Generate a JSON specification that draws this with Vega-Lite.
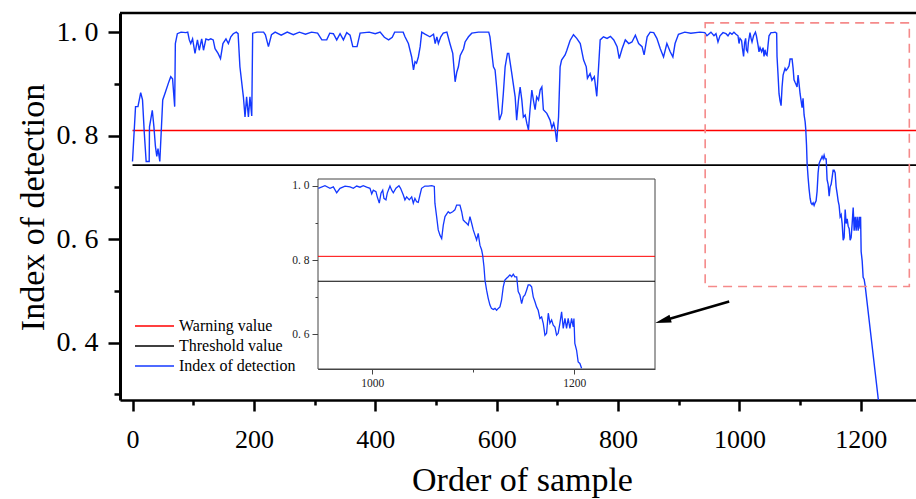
{
  "$schema": "https://vega.github.io/schema/vega-lite/v6.json",
  "width": 796,
  "height": 387,
  "autosize": {"type": "none"},
  "padding": {"left": 120, "top": 13, "right": 0, "bottom": 99},
  "background": "white",
  "config": {
    "font": "Liberation Serif",
    "view": {"stroke": null},
    "legend": {
      "orient": "none", "legendX": 23.5, "legendY": 302, "padding": 0,
      "symbolType": "M-1.95,0H1.95", "symbolSize": 400, "symbolStrokeWidth": 1.6,
      "labelFont": "Liberation Serif", "labelFontSize": 16, "labelColor": "#000", "labelOffset": 13.5,
      "rowPadding": 1
    }
  },
  "datasets": {
    "detect": [
      {"x":0,"y":0.750},{"x":5,"y":0.856},{"x":9,"y":0.856},{"x":13.5,"y":0.883},{"x":16.5,"y":0.869},{"x":19.5,"y":0.804},{"x":22.5,"y":0.750},{"x":27.5,"y":0.750},{"x":28,"y":0.817},{"x":32.6,"y":0.849},{"x":35.3,"y":0.817},{"x":37.7,"y":0.780},{"x":40,"y":0.760},{"x":42,"y":0.775},{"x":45,"y":0.750},{"x":49.8,"y":0.869},{"x":53.6,"y":0.882},{"x":59,"y":0.901},{"x":63,"y":0.914},{"x":66,"y":0.910},{"x":69.5,"y":0.856},{"x":70.6,"y":0.978},{"x":73.9,"y":0.997},{"x":80,"y":1.000},{"x":88,"y":0.999},{"x":91,"y":1.000},{"x":93.6,"y":0.985},{"x":96,"y":0.978},{"x":99,"y":0.987},{"x":103,"y":0.959},{"x":107,"y":0.985},{"x":110,"y":0.965},{"x":114,"y":0.987},{"x":117,"y":0.965},{"x":121,"y":0.987},{"x":125,"y":0.985},{"x":129,"y":0.987},{"x":133,"y":0.985},{"x":136,"y":0.968},{"x":141,"y":0.959},{"x":145,"y":0.949},{"x":149,"y":0.978},{"x":154,"y":0.987},{"x":158,"y":0.978},{"x":162,"y":0.991},{"x":166,"y":0.997},{"x":171,"y":1.000},{"x":174,"y":0.997},{"x":177,"y":0.933},{"x":182.7,"y":0.875},{"x":185.4,"y":0.836},{"x":188,"y":0.875},{"x":191,"y":0.836},{"x":193.5,"y":0.875},{"x":196.5,"y":0.838},{"x":198,"y":0.998},{"x":205,"y":1.000},{"x":216,"y":1.000},{"x":219,"y":0.995},{"x":224,"y":0.972},{"x":229,"y":0.995},{"x":235,"y":1.000},{"x":245,"y":0.994},{"x":255,"y":1.000},{"x":265,"y":0.995},{"x":275,"y":1.000},{"x":285,"y":0.996},{"x":295,"y":1.000},{"x":305,"y":0.998},{"x":312,"y":0.985},{"x":320,"y":0.985},{"x":325,"y":0.998},{"x":331,"y":0.997},{"x":336.5,"y":0.985},{"x":342,"y":0.997},{"x":347.5,"y":0.985},{"x":353,"y":0.999},{"x":358.5,"y":0.994},{"x":363,"y":0.972},{"x":370,"y":0.972},{"x":375,"y":0.998},{"x":390,"y":1.000},{"x":400,"y":0.997},{"x":408,"y":1.000},{"x":415,"y":0.990},{"x":422,"y":0.985},{"x":428,"y":0.990},{"x":432,"y":1.000},{"x":446,"y":1.000},{"x":449,"y":0.991},{"x":454.6,"y":0.978},{"x":460,"y":0.952},{"x":463,"y":0.927},{"x":465.5,"y":0.943},{"x":468,"y":0.940},{"x":471,"y":0.952},{"x":474,"y":0.972},{"x":476.6,"y":1.000},{"x":482,"y":0.996},{"x":490,"y":0.991},{"x":496,"y":0.996},{"x":498.7,"y":0.978},{"x":501.5,"y":0.991},{"x":504,"y":0.978},{"x":508,"y":0.991},{"x":512,"y":0.998},{"x":518,"y":1.000},{"x":523,"y":0.978},{"x":527.7,"y":0.959},{"x":531.6,"y":0.904},{"x":534.4,"y":0.923},{"x":537,"y":0.933},{"x":540,"y":0.955},{"x":545.5,"y":0.968},{"x":548,"y":0.981},{"x":553.6,"y":0.991},{"x":559,"y":0.998},{"x":570,"y":1.000},{"x":587,"y":1.000},{"x":589,"y":0.991},{"x":594.7,"y":0.933},{"x":597.4,"y":0.927},{"x":600,"y":0.894},{"x":604.6,"y":0.830},{"x":608.4,"y":0.843},{"x":611,"y":0.881},{"x":614,"y":0.933},{"x":617.8,"y":0.959},{"x":620,"y":0.959},{"x":625,"y":0.920},{"x":630.5,"y":0.875},{"x":633,"y":0.830},{"x":636,"y":0.869},{"x":638.7,"y":0.894},{"x":641.5,"y":0.869},{"x":644,"y":0.836},{"x":647,"y":0.840},{"x":649.7,"y":0.824},{"x":652.4,"y":0.811},{"x":655,"y":0.850},{"x":658,"y":0.888},{"x":660.5,"y":0.869},{"x":663.4,"y":0.850},{"x":666,"y":0.875},{"x":669,"y":0.869},{"x":671.7,"y":0.888},{"x":674.5,"y":0.894},{"x":677,"y":0.850},{"x":682.7,"y":0.843},{"x":688,"y":0.830},{"x":691,"y":0.815},{"x":694,"y":0.824},{"x":696.5,"y":0.811},{"x":699,"y":0.788},{"x":702,"y":0.836},{"x":704.6,"y":0.933},{"x":707,"y":0.946},{"x":712.8,"y":0.956},{"x":715.7,"y":0.965},{"x":721,"y":0.984},{"x":726.6,"y":0.995},{"x":732,"y":0.988},{"x":737.8,"y":0.978},{"x":743.3,"y":0.946},{"x":747.7,"y":0.933},{"x":749.6,"y":0.911},{"x":754,"y":0.920},{"x":757,"y":0.907},{"x":761,"y":0.914},{"x":765,"y":0.876},{"x":768,"y":0.933},{"x":770.6,"y":0.985},{"x":776,"y":0.991},{"x":782,"y":0.988},{"x":787.5,"y":0.992},{"x":793,"y":0.985},{"x":798.5,"y":0.972},{"x":802,"y":0.949},{"x":806.7,"y":0.968},{"x":812,"y":0.985},{"x":817.7,"y":0.978},{"x":823,"y":0.981},{"x":828.6,"y":0.994},{"x":834,"y":0.978},{"x":839.6,"y":0.972},{"x":843,"y":0.956},{"x":848,"y":0.991},{"x":853,"y":1.000},{"x":858.8,"y":0.999},{"x":864,"y":0.988},{"x":869.7,"y":0.968},{"x":875,"y":0.952},{"x":880.5,"y":0.978},{"x":886,"y":0.962},{"x":890.4,"y":0.952},{"x":894,"y":0.978},{"x":899.6,"y":0.996},{"x":910,"y":1.000},{"x":920,"y":0.998},{"x":935,"y":1.000},{"x":943,"y":0.999},
      {"x":946.5,"y":0.993},{"x":953.1,"y":1.000},{"x":958.1,"y":0.993},{"x":961.4,"y":0.997},{"x":964.7,"y":0.981},{"x":968,"y":0.993},{"x":973,"y":0.999},{"x":977.9,"y":0.997},{"x":981.2,"y":0.993},{"x":984.5,"y":0.999},{"x":987.8,"y":0.996},{"x":991,"y":1.000},{"x":994.4,"y":0.996},{"x":997.7,"y":0.993},{"x":999.4,"y":0.978},{"x":1001,"y":0.988},{"x":1003.6,"y":0.984},{"x":1004.9,"y":0.970},{"x":1006.9,"y":0.953},{"x":1008.6,"y":0.980},{"x":1010.3,"y":0.988},{"x":1011.5,"y":0.966},{"x":1013.5,"y":0.962},{"x":1014.8,"y":0.980},{"x":1017.5,"y":0.999},{"x":1019.2,"y":0.988},{"x":1020.8,"y":0.981},{"x":1023.4,"y":0.993},{"x":1026.4,"y":1.000},{"x":1028,"y":0.993},{"x":1030.7,"y":0.975},{"x":1032.3,"y":0.962},{"x":1034,"y":0.970},{"x":1036.6,"y":0.962},{"x":1039,"y":0.970},{"x":1040.6,"y":0.953},{"x":1042.2,"y":0.966},{"x":1043.9,"y":0.957},{"x":1045.5,"y":0.955},{"x":1047.2,"y":0.975},{"x":1048.8,"y":0.993},{"x":1052.1,"y":0.999},{"x":1055.4,"y":0.999},{"x":1058.8,"y":1.000},{"x":1061.4,"y":0.998},{"x":1062,"y":0.953},{"x":1063.7,"y":0.917},{"x":1065.3,"y":0.881},{"x":1067,"y":0.867},{"x":1068.7,"y":0.858},{"x":1070.3,"y":0.894},{"x":1072,"y":0.917},{"x":1075.2,"y":0.930},{"x":1076.9,"y":0.926},{"x":1079.6,"y":0.930},{"x":1081.8,"y":0.935},{"x":1083.5,"y":0.948},{"x":1086.8,"y":0.948},{"x":1088.5,"y":0.930},{"x":1090,"y":0.908},{"x":1091.7,"y":0.903},{"x":1093.4,"y":0.899},{"x":1095,"y":0.894},{"x":1096.7,"y":0.917},{"x":1098.4,"y":0.899},{"x":1100,"y":0.881},{"x":1101.7,"y":0.867},{"x":1103.3,"y":0.854},{"x":1104.9,"y":0.872},{"x":1106.6,"y":0.840},{"x":1108.3,"y":0.827},{"x":1109.3,"y":0.813},{"x":1110.6,"y":0.782},{"x":1111.6,"y":0.746},{"x":1113.2,"y":0.719},{"x":1114.8,"y":0.697},{"x":1116.5,"y":0.679},{"x":1118,"y":0.670},{"x":1119.8,"y":0.667},{"x":1121.5,"y":0.670},{"x":1123.1,"y":0.665},{"x":1124.7,"y":0.670},{"x":1126.4,"y":0.674},{"x":1128,"y":0.692},{"x":1129.7,"y":0.728},{"x":1131.3,"y":0.746},{"x":1133,"y":0.751},{"x":1134.6,"y":0.755},{"x":1136.3,"y":0.760},{"x":1138,"y":0.755},{"x":1139.6,"y":0.762},{"x":1141.2,"y":0.755},{"x":1143,"y":0.755},{"x":1144.5,"y":0.715},{"x":1146.2,"y":0.706},{"x":1147.9,"y":0.683},{"x":1149.5,"y":0.701},{"x":1151.2,"y":0.706},{"x":1152.8,"y":0.719},{"x":1154.4,"y":0.733},{"x":1156.1,"y":0.733},{"x":1157.8,"y":0.728},{"x":1159.4,"y":0.701},{"x":1161.1,"y":0.688},{"x":1162.7,"y":0.674},{"x":1164.3,"y":0.665},{"x":1166,"y":0.643},{"x":1167.7,"y":0.647},{"x":1169.3,"y":0.630},{"x":1171,"y":0.598},{"x":1172.6,"y":0.603},{"x":1174.3,"y":0.657},{"x":1175.9,"y":0.630},{"x":1177.6,"y":0.639},{"x":1179.2,"y":0.625},{"x":1180.9,"y":0.620},{"x":1182.5,"y":0.598},{"x":1184.1,"y":0.603},{"x":1185.8,"y":0.630},{"x":1187.5,"y":0.661},{"x":1189.1,"y":0.616},{"x":1190.8,"y":0.643},{"x":1192.4,"y":0.616},{"x":1194,"y":0.643},{"x":1195.7,"y":0.616},{"x":1197.4,"y":0.643},{"x":1199,"y":0.620},{"x":1199.7,"y":0.643},{"x":1200.6,"y":0.576},{"x":1202.3,"y":0.558},{"x":1203.9,"y":0.526},{"x":1205.6,"y":0.522},{"x":1207.3,"y":0.509},{"x":1229,"y":0.289}
    ],
    "levels": [
      {"series": "Warning value", "level": 0.810},
      {"series": "Threshold value", "level": 0.743}
    ],
    "one": [{}]
  },
  "layer": [
    {
      "layer": [
        {
          "data": {"name": "one"},
          "mark": {"type": "rule", "color": "#000", "strokeWidth": 2.5},
          "encoding": {"y": {"datum": 1.037, "type": "quantitative", "axis": null}}
        },
        {
          "data": {"name": "levels"},
          "mark": {"type": "rule", "strokeWidth": 1.6},
          "encoding": {
            "x": {"datum": 0, "type": "quantitative", "axis": null},
            "x2": {"datum": 1291},
            "y": {"field": "level", "type": "quantitative", "axis": null},
            "color": {"field": "series", "type": "nominal", "legend": {"title": null}}
          }
        },
        {
          "data": {"name": "detect"},
          "mark": {"type": "line", "strokeWidth": 1.4, "clip": true},
          "encoding": {
            "x": {
              "field": "x", "type": "quantitative",
              "scale": {"domain": [-20.6, 1291], "nice": false, "zero": false},
              "axis": {
                "orient": "bottom", "values": [0, 200, 400, 600, 800, 1000, 1200], "format": "d",
                "grid": false, "domainColor": "#000", "domainWidth": 2.5,
                "tickColor": "#000", "tickWidth": 2.5, "tickSize": 11,
                "labelFontSize": 26, "labelColor": "#000", "labelPadding": 15, "labelFlush": false, "labelOverlap": false,
                "title": "Order of sample", "titleFontSize": 34, "titleFontWeight": "normal", "titleColor": "#000",
                "titleX": 402, "titleY": 90, "titleBaseline": "alphabetic", "titleAlign": "center"
              }
            },
            "y": {
              "field": "y", "type": "quantitative",
              "scale": {"domain": [0.289, 1.037], "nice": false, "zero": false},
              "axis": {
                "orient": "left", "values": [0.4, 0.6, 0.8, 1.0],
                "labelExpr": "replace(format(datum.value, '.1f'), '.', '. ')",
                "grid": false, "domainColor": "#000", "domainWidth": 3,
                "tickColor": "#000", "tickWidth": 2.5, "tickSize": 12,
                "labelFontSize": 28, "labelColor": "#000", "labelPadding": 10, "labelFlush": false, "labelOverlap": false,
                "title": "Index of detection", "titleFontSize": 34, "titleFontWeight": "normal", "titleColor": "#000",
                "titleX": -77, "titleY": 194, "titleAngle": 270, "titleBaseline": "alphabetic", "titleAlign": "center"
              }
            },
            "color": {
              "datum": "Index of detection",
              "scale": {"domain": ["Warning value", "Threshold value", "Index of detection"], "range": ["#ff0000", "#000000", "#1438ff"]},
              "legend": {"title": null}
            }
          }
        },
        {
          "data": {"name": "detect"},
          "mark": {"type": "line", "opacity": 0},
          "encoding": {
            "x": {"field": "x", "type": "quantitative", "axis": {"orient": "bottom", "values": [100, 300, 500, 700, 900, 1100], "labels": false, "domain": false, "grid": false, "tickColor": "#000", "tickWidth": 2.5, "tickSize": 5, "title": null}},
            "y": {"field": "y", "type": "quantitative", "axis": {"orient": "left", "values": [0.3, 0.5, 0.7, 0.9], "labels": false, "domain": false, "grid": false, "tickColor": "#000", "tickWidth": 2.5, "tickSize": 6, "title": null}}
          }
        },
        {
          "data": {"name": "one"},
          "mark": {"type": "rect", "fill": null, "fillOpacity": 0, "stroke": "#f58a8a", "strokeWidth": 1.6, "strokeDash": [9, 6]},
          "encoding": {
            "x": {"datum": 943.6, "type": "quantitative", "axis": null},
            "x2": {"datum": 1280},
            "y": {"datum": 0.5085, "type": "quantitative", "axis": null},
            "y2": {"datum": 1.018}
          }
        },
        {
          "data": {"name": "one"},
          "mark": {"type": "rule", "color": "#000", "strokeWidth": 2.5},
          "encoding": {
            "x": {"datum": 983.2, "type": "quantitative", "axis": null},
            "x2": {"datum": 874},
            "y": {"datum": 0.4795, "type": "quantitative", "axis": null},
            "y2": {"datum": 0.4421}
          }
        },
        {
          "data": {"name": "one"},
          "mark": {"type": "point", "shape": "M0,-1L0.5,1L-0.5,1Z", "filled": true, "color": "#000", "opacity": 1, "size": 256, "angle": 254},
          "encoding": {
            "x": {"datum": 874, "type": "quantitative", "axis": null},
            "y": {"datum": 0.4421, "type": "quantitative", "axis": null}
          }
        }
      ],
      "resolve": {"axis": {"x": "independent", "y": "independent"}}
    },
    {
      "layer": [
        {
          "data": {"name": "one"},
          "mark": {"type": "rect", "fill": "white", "stroke": "#444", "strokeWidth": 1},
          "encoding": {
            "x": {"datum": 946.2, "type": "quantitative", "axis": null},
            "x2": {"datum": 1280},
            "y": {"datum": 0.507, "type": "quantitative", "axis": null},
            "y2": {"datum": 1.018}
          }
        },
        {
          "data": {"name": "levels"},
          "transform": [{"filter": "datum.series === 'Warning value'"}],
          "mark": {"type": "rule", "color": "#ff0000", "strokeWidth": 1},
          "encoding": {
            "x": {"datum": 946.2, "type": "quantitative", "axis": null},
            "x2": {"datum": 1280},
            "y": {"field": "level", "type": "quantitative", "axis": null}
          }
        },
        {
          "data": {"name": "levels"},
          "transform": [{"filter": "datum.series === 'Threshold value'"}],
          "mark": {"type": "rule", "color": "#000000", "strokeWidth": 1.2},
          "encoding": {
            "x": {"datum": 946.2, "type": "quantitative", "axis": null},
            "x2": {"datum": 1280},
            "y": {"field": "level", "type": "quantitative", "axis": null}
          }
        },
        {
          "data": {"name": "detect"},
          "transform": [{"filter": "datum.x >= 946 && datum.y >= 0.5"}],
          "mark": {"type": "line", "color": "#1438ff", "strokeWidth": 1.3},
          "encoding": {
            "x": {
              "field": "x", "type": "quantitative",
              "scale": {"domain": [946.2, 1280], "range": [198, 535], "nice": false, "zero": false},
              "axis": {
                "orient": "bottom", "offset": -31, "values": [1000, 1200], "format": "d", "grid": false,
                "domainColor": "#444", "domainWidth": 1, "tickColor": "#444", "tickWidth": 1, "tickSize": 5,
                "labelFontSize": 11.5, "labelColor": "#222", "labelPadding": 3, "labelFlush": false, "title": null
              }
            },
            "y": {
              "field": "y", "type": "quantitative",
              "scale": {"domain": [0.507, 1.018], "range": [356, 166], "nice": false, "zero": false},
              "axis": {
                "orient": "left", "offset": -198, "values": [0.6, 0.8, 1.0],
                "labelExpr": "replace(format(datum.value, '.1f'), '.', '. ')", "grid": false,
                "domainColor": "#444", "domainWidth": 1, "tickColor": "#444", "tickWidth": 1, "tickSize": 6,
                "labelFontSize": 11.5, "labelColor": "#222", "labelPadding": 3, "labelFlush": false, "title": null
              }
            }
          }
        },
        {
          "data": {"name": "detect"},
          "transform": [{"filter": "datum.x >= 946 && datum.y >= 0.5"}],
          "mark": {"type": "line", "opacity": 0},
          "encoding": {
            "x": {"field": "x", "type": "quantitative", "axis": {"orient": "bottom", "offset": -31, "values": [1100], "labels": false, "domain": false, "grid": false, "tickColor": "#444", "tickWidth": 1, "tickSize": 3, "title": null}},
            "y": {"field": "y", "type": "quantitative", "axis": {"orient": "left", "offset": -198, "values": [0.7, 0.9], "labels": false, "domain": false, "grid": false, "tickColor": "#444", "tickWidth": 1, "tickSize": 3, "title": null}}
          }
        }
      ],
      "resolve": {"axis": {"x": "independent", "y": "independent"}}
    }
  ],
  "resolve": {"scale": {"x": "independent", "y": "independent"}}
}
